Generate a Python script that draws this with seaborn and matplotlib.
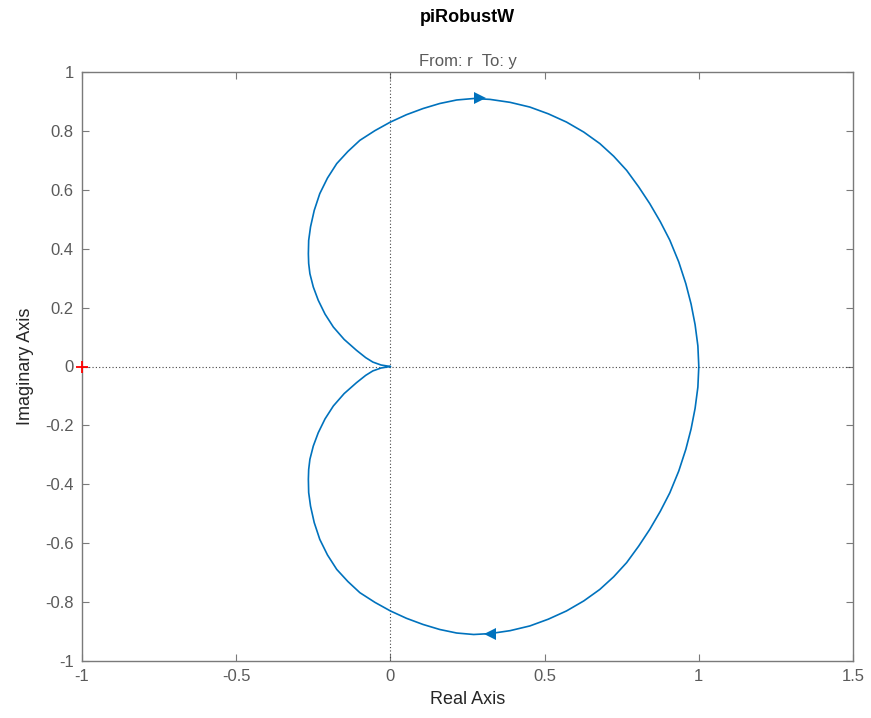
import matplotlib
matplotlib.use("Agg")
import matplotlib.pyplot as plt
import seaborn as sns
import pandas as pd

# Positive-frequency branch of the Nyquist curve
# (starts at (1,0) for w=0 and ends at the origin for w->inf)
pos_re = [1.000, 0.997, 0.988, 0.975, 0.958, 0.935, 0.906, 0.875, 0.841, 0.805,
          0.766, 0.724, 0.679, 0.627, 0.571, 0.512, 0.452, 0.388, 0.323, 0.270,
          0.215, 0.160, 0.106, 0.052, 0.000, -0.050, -0.099, -0.138, -0.174, -0.204,
          -0.229, -0.247, -0.259, -0.265, -0.266, -0.265, -0.261, -0.250, -0.234,
          -0.212, -0.185, -0.150, -0.110, -0.080, -0.057, -0.030, 0.000]
pos_im = [0.000, -0.070, -0.142, -0.212, -0.281, -0.355, -0.429, -0.492, -0.553, -0.610,
          -0.666, -0.714, -0.757, -0.796, -0.830, -0.858, -0.881, -0.897, -0.907, -0.910,
          -0.905, -0.893, -0.876, -0.855, -0.830, -0.801, -0.768, -0.730, -0.689, -0.640,
          -0.587, -0.530, -0.474, -0.428, -0.383, -0.350, -0.315, -0.270, -0.225,
          -0.178, -0.134, -0.092, -0.055, -0.030, -0.015, -0.005, 0.000]

# Direction arrows (positions)
arrow_pos = (0.323, -0.907)   # points left
arrow_neg = (0.290, 0.912)    # points right
critical_point = (-1.0, 0.0)

title = "piRobustW"
subtitle = "From: r  To: y"
xlabel = "Real Axis"
ylabel = "Imaginary Axis"
xticks = [-1, -0.5, 0, 0.5, 1, 1.5]
xticklabels = ["-1", "-0.5", "0", "0.5", "1", "1.5"]
yticks = [-1, -0.8, -0.6, -0.4, -0.2, 0, 0.2, 0.4, 0.6, 0.8, 1]
yticklabels = ["-1", "-0.8", "-0.6", "-0.4", "-0.2", "0", "0.2", "0.4", "0.6", "0.8", "1"]

# Negative-frequency branch is the mirror image (origin -> top -> (1,0))
neg_re = pos_re[::-1]
neg_im = [-v for v in pos_im[::-1]]
df = pd.DataFrame({
    "re": neg_re + pos_re[1:],
    "im": neg_im + pos_im[1:],
})

sns.set_theme(style="white")
plt.rcParams["font.family"] = ["Liberation Sans", "DejaVu Sans"]

fig = plt.figure(figsize=(8.71, 7.18), dpi=100)
ax = fig.add_axes([82 / 871, 1 - 661 / 718, (853 - 82) / 871, (661 - 72) / 718])

blue = "#0072BD"
gray_axis = "#7a7a7a"
gray_text = "#5a5a5a"

ax.axhline(0, color="#444444", lw=0.8, ls=(0, (1, 2)), zorder=1)
ax.axvline(0, color="#444444", lw=0.8, ls=(0, (1, 2)), zorder=1)

sns.lineplot(data=df, x="re", y="im", sort=False, estimator=None,
             color=blue, lw=1.2, ax=ax, zorder=3,
             solid_joinstyle="round", solid_capstyle="round")

ax.plot([arrow_pos[0]], [arrow_pos[1]], marker="<", color=blue, ms=8, mew=0, zorder=4)
ax.plot([arrow_neg[0]], [arrow_neg[1]], marker=">", color=blue, ms=8, mew=0, zorder=4)
ax.plot([critical_point[0]], [critical_point[1]], marker="+", color="red",
        ms=9, mew=1.3, zorder=5, clip_on=False)

ax.set_xlim(-1, 1.5)
ax.set_ylim(-1, 1)
ax.set_xticks(xticks)
ax.set_xticklabels(xticklabels)
ax.set_yticks(yticks)
ax.set_yticklabels(yticklabels)

ax.tick_params(direction="in", length=5, width=0.8, colors=gray_axis,
               labelcolor=gray_text, labelsize=12, top=True, right=True,
               bottom=True, left=True, pad=6)
for s in ax.spines.values():
    s.set_color(gray_axis)
    s.set_linewidth(1.0)
    s.set_visible(True)

ax.set_xlabel(xlabel, fontsize=13, color="#262626", labelpad=5)
ax.set_ylabel(ylabel, fontsize=13, color="#262626", labelpad=8)
ax.set_title(subtitle, fontsize=12, color=gray_text, pad=4)
fig.text((82 + 853) / 2 / 871, 1 - 18 / 718, title, ha="center", va="center",
         fontsize=13, fontweight="bold", color="black")

fig.savefig("out.png", dpi=100)
